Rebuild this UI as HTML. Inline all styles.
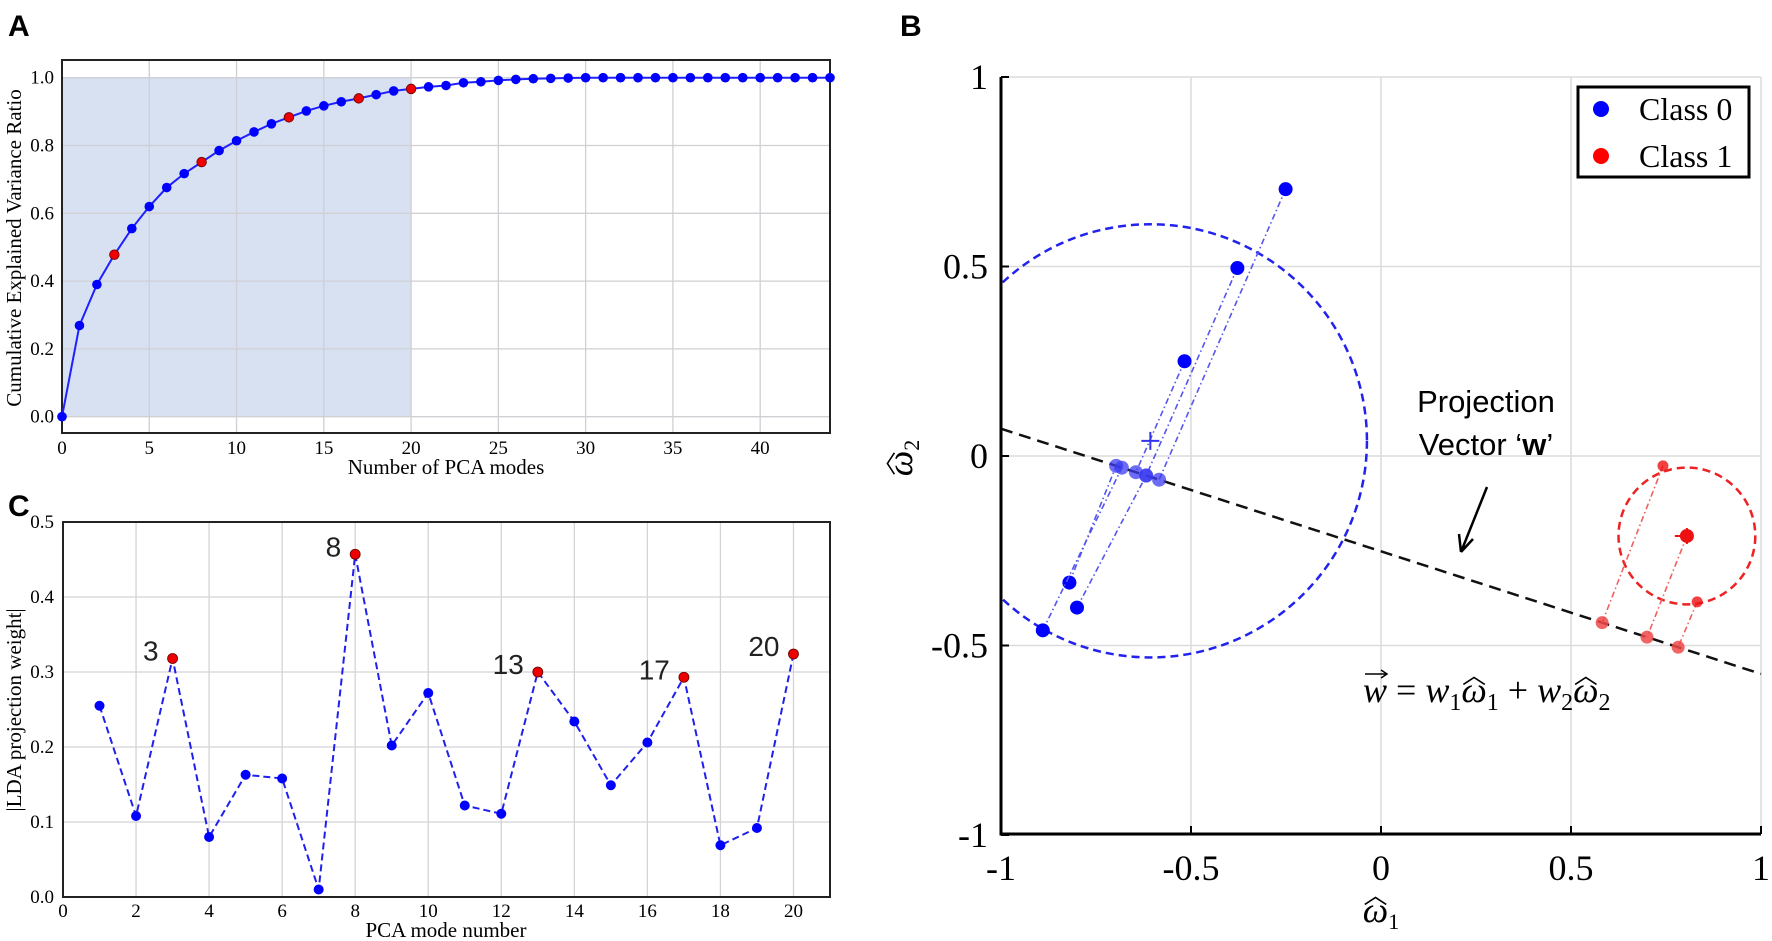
<!DOCTYPE html>
<html><head><meta charset="utf-8">
<style>
html,body{margin:0;padding:0;background:#fff;}
svg{display:block;}
.ser{font-family:"Liberation Serif",serif;}
.san{font-family:"Liberation Sans",sans-serif;}
</style></head>
<body>
<svg id="root" width="1772" height="941" viewBox="0 0 1772 941" xmlns="http://www.w3.org/2000/svg">
<text x="8" y="36" class="san" font-size="30" font-weight="bold">A</text>
<text x="8" y="516" class="san" font-size="30" font-weight="bold">C</text>
<text x="900" y="36" class="san" font-size="30" font-weight="bold">B</text>
<g id="gA"></g>
<g id="gC"></g>
<g id="gB"></g>
</svg>
<script>
// ---------- Panel A data ----------
const aModes = [0,1,2,3,4,5,6,7,8,9,10,11,12,13,14,15,16,17,18,19,20,21,22,23,24,25,26,27,28,29,30,31,32,33,34,35,36,37,38,39,40,41,42,43,44];
const aCumVar = [0,0.269,0.39,0.478,0.555,0.620,0.676,0.717,0.751,0.785,0.814,0.840,0.864,0.883,0.902,0.917,0.929,0.939,0.950,0.961,0.967,0.973,0.977,0.985,0.988,0.992,0.995,0.997,0.998,0.999,1,1,1,1,1,1,1,1,1,1,1,1,1,1,1];
const aHighlight = [3,8,13,17,20];
const aXTicks = [0,5,10,15,20,25,30,35,40];
const aYTicks = ["0.0","0.2","0.4","0.6","0.8","1.0"];
// ---------- Panel C data ----------
const cModes = [1,2,3,4,5,6,7,8,9,10,11,12,13,14,15,16,17,18,19,20];
const cWeights = [0.255,0.108,0.318,0.080,0.163,0.158,0.010,0.457,0.202,0.272,0.122,0.111,0.300,0.234,0.149,0.206,0.293,0.069,0.092,0.324];
const cHighlight = [3,8,13,17,20];
const cXTicks = [0,2,4,6,8,10,12,14,16,18,20];
const cYTicks = ["0.0","0.1","0.2","0.3","0.4","0.5"];
// ---------- Panel B data ----------
const b0X = [-0.251,-0.378,-0.517,-0.82,-0.80,-0.89];
const b0Y = [0.704,0.496,0.250,-0.334,-0.40,-0.46];
const b0ProjX = [-0.584,-0.618,-0.645,-0.697,-0.618,-0.682];
const b0Mean = [-0.607,0.040];
const b0Radius = 0.57;
const b1X = [0.742,0.832,0.805];
const b1Y = [-0.026,-0.385,-0.211];
const b1ProjX = [0.582,0.782,0.70];
const b1Radius = 0.18;
const wLine = [0.072,-0.575]; // y at x=-1 and x=1
const bTicks = [-1,-0.5,0,0.5,1];
const bTickLabels = ["-1","-0.5","0","0.5","1"];

const NS="http://www.w3.org/2000/svg";
function mk(parent,tag,attrs,txt){const e=document.createElementNS(NS,tag);for(const k in attrs)e.setAttribute(k,attrs[k]);if(txt!==undefined)e.textContent=txt;parent.appendChild(e);return e;}

// ===== Panel A =====
(function(){
 const g=document.getElementById('gA');
 const L=62,R=830,T=60,B=433;
 const sx=v=>L+(v-0)/44*(R-L);
 const sy=v=>416.7-v*339;
 let r=mk(g,'rect',{x:sx(0),y:sy(1),width:sx(20)-sx(0),height:sy(0)-sy(1),fill:'#d7e1f2'});
 
 
 aXTicks.forEach(t=>{const l=mk(g,'line',{x1:sx(t),x2:sx(t),y1:T,y2:B,stroke:'#cfcfd4','stroke-width':1.3});
  
  const tx=mk(g,'text',{x:sx(t),y:454,'text-anchor':'middle','font-size':19,class:'ser'},String(t));
  });
 aYTicks.forEach(t=>{const v=parseFloat(t);const l=mk(g,'line',{x1:L,x2:R,y1:sy(v),y2:sy(v),stroke:'#cfcfd4','stroke-width':1.3});
  
  const tx=mk(g,'text',{x:54,y:sy(v)+6,'text-anchor':'end','font-size':19,class:'ser'},t);
  });
 const fr=mk(g,'rect',{x:L,y:T,width:R-L,height:B-T,fill:'none',stroke:'#222','stroke-width':2});
 
 const pts=aModes.map((m,i)=>sx(m)+','+sy(aCumVar[i])).join(' ');
 const pl=mk(g,'polyline',{points:pts,fill:'none',stroke:'#2020ff','stroke-width':2});
 
 aModes.forEach((m,i)=>{const hi=aHighlight.includes(m);
  const c=mk(g,'circle',{cx:sx(m),cy:sy(aCumVar[i]),r:4.8,fill:hi?'#ee0000':'#0000ff',stroke:hi?'#600':'none','stroke-width':0.8});
  });
 const xt=mk(g,'text',{x:446,y:474,'text-anchor':'middle','font-size':21,class:'ser'},'Number of PCA modes');
 
 const yt=mk(g,'text',{x:0,y:0,'text-anchor':'middle','font-size':21,class:'ser',transform:'translate(21,248) rotate(-90)'},'Cumulative Explained Variance Ratio');
 
})();

// ===== Panel C =====
(function(){
 const g=document.getElementById('gC');
 const L=63,R=830,T=522,B=897;
 const sx=v=>L+v/21*(R-L);
 const sy=v=>B-v/0.5*(B-T);
 cXTicks.forEach(t=>{const l=mk(g,'line',{x1:sx(t),x2:sx(t),y1:T,y2:B,stroke:'#d4d4d8','stroke-width':1.3});
  
  const tx=mk(g,'text',{x:sx(t),y:917,'text-anchor':'middle','font-size':19,class:'ser'},String(t));
  });
 cYTicks.forEach(t=>{const v=parseFloat(t);const l=mk(g,'line',{x1:L,x2:R,y1:sy(v),y2:sy(v),stroke:'#d4d4d8','stroke-width':1.3});
  
  const tx=mk(g,'text',{x:54,y:sy(v)+6,'text-anchor':'end','font-size':19,class:'ser'},t);
  });
 const fr=mk(g,'rect',{x:L,y:T,width:R-L,height:B-T,fill:'none',stroke:'#222','stroke-width':2});
 
 const pts=cModes.map((m,i)=>sx(m)+','+sy(cWeights[i])).join(' ');
 const pl=mk(g,'polyline',{points:pts,fill:'none',stroke:'#2020ee','stroke-width':2,'stroke-dasharray':'7,4'});
 
 cModes.forEach((m,i)=>{const hi=cHighlight.includes(m);
  const c=mk(g,'circle',{cx:sx(m),cy:sy(cWeights[i]),r:5,fill:hi?'#ee0000':'#0000ff',stroke:hi?'#600':'none','stroke-width':0.8});
  
  if(hi){const lab=mk(g,'text',{x:sx(m)-14,y:sy(cWeights[i])+2,'text-anchor':'end','font-size':28,class:'san',fill:'#222'},String(m));
   }});
 const xt=mk(g,'text',{x:446,y:937,'text-anchor':'middle','font-size':21,class:'ser'},'PCA mode number');
 
 const yt=mk(g,'text',{x:0,y:0,'text-anchor':'middle','font-size':21,class:'ser',transform:'translate(21,710) rotate(-90)'},'|LDA projection weight|');
 
})();

// hat helper: draw a ^ over character index i of text element t
function hat(t,i,parent){
 const ext=t.getExtentOfChar(i);
 const cx=ext.x+ext.width/2, top=ext.y+ext.height*0.36;
 const w=ext.width*0.42;
 mk(parent,'path',{d:`M${cx-w},${top} L${cx},${top-7} L${cx+w},${top}`,fill:'none',stroke:'#000','stroke-width':1.6});
}

// ===== Panel B =====
(function(){
 const g=document.getElementById('gB');
 const L=1001,R=1761,T=77,B=834;
 const sx=v=>1381+v*380;
 const sy=v=>456-v*379;
 const defs=mk(g,'defs',{});
 const cp=mk(defs,'clipPath',{id:'bclip'});mk(cp,'rect',{x:L,y:T-5,width:R-L+5,height:B-T+5});
 bTicks.forEach((t,i)=>{
  const lx=mk(g,'line',{x1:sx(t),x2:sx(t),y1:T,y2:B,stroke:'#dcdcdc','stroke-width':1.5});
  
  const ly=mk(g,'line',{x1:L,x2:R,y1:sy(t),y2:sy(t),stroke:'#dcdcdc','stroke-width':1.5});
  
  const tx=mk(g,'text',{x:sx(t),y:880,'text-anchor':'middle','font-size':36,class:'ser'},bTickLabels[i]);
  
  const ty=mk(g,'text',{x:988,y:sy(t)+12,'text-anchor':'end','font-size':36,class:'ser'},bTickLabels[i]);
  
  mk(g,'line',{x1:L,x2:L+8,y1:sy(t),y2:sy(t),stroke:'#000','stroke-width':2});
  mk(g,'line',{x1:sx(t),x2:sx(t),y1:B,y2:B-8,stroke:'#000','stroke-width':2});
 });
 const cg=mk(g,'g',{'clip-path':'url(#bclip)'});
 const c0=mk(cg,'circle',{cx:sx(b0Mean[0]),cy:sy(b0Mean[1]),r:b0Radius*380,fill:'none',stroke:'#2222ee','stroke-width':2.5,'stroke-dasharray':'8,5'});
 
 const c1=mk(cg,'circle',{cx:sx(b1X[2]),cy:sy(b1Y[2]),r:b1Radius*380,fill:'none',stroke:'#ee2222','stroke-width':2.5,'stroke-dasharray':'8,5'});
 
 const wl=mk(cg,'line',{x1:sx(-1),y1:sy(wLine[0]),x2:sx(1),y2:sy(wLine[1]),stroke:'#111','stroke-width':2.5,'stroke-dasharray':'12,7'});
 
 const lineY=x=>wLine[0]+(x+1)/2*(wLine[1]-wLine[0]);
 b0X.forEach((x,i)=>{const px=b0ProjX[i];
  const l=mk(cg,'line',{x1:sx(x),y1:sy(b0Y[i]),x2:sx(px),y2:sy(lineY(px)),stroke:'#5555ee','stroke-width':1.6,'stroke-dasharray':'6,3,1.5,3'});
  
  const p=mk(cg,'circle',{cx:sx(px),cy:sy(lineY(px)),r:7,fill:'#3b3bf0','fill-opacity':0.75});
  
  const d=mk(cg,'circle',{cx:sx(x),cy:sy(b0Y[i]),r:7,fill:'#0000ff'});
  });
 b1X.forEach((x,i)=>{const px=b1ProjX[i];
  const l=mk(cg,'line',{x1:sx(x),y1:sy(b1Y[i]),x2:sx(px),y2:sy(lineY(px)),stroke:'#f06060','stroke-width':1.6,'stroke-dasharray':'6,3,1.5,3'});
  
  const p=mk(cg,'circle',{cx:sx(px),cy:sy(lineY(px)),r:6.5,fill:'#f04848','fill-opacity':0.85});
  
  const d=mk(cg,'circle',{cx:sx(x),cy:sy(b1Y[i]),r:i==2?7:5.5,fill:'#ee1111','fill-opacity':i==2?1:0.8});
  });
 const mx=sx(b0Mean[0]),my=sy(b0Mean[1]);
 const m0=mk(cg,'path',{d:`M${mx-9},${my}H${mx+9}M${mx},${my-9}V${my+9}`,stroke:'#3333ee','stroke-width':2});
 
 const rx=sx(b1X[2]),ry=sy(b1Y[2]);
 const m1=mk(cg,'path',{d:`M${rx-12},${ry}H${rx+4}M${rx},${ry-8}V${ry+8}`,stroke:'#ee1111','stroke-width':2});
 
 const ax=mk(g,'path',{d:`M${L},${T}V${B}H${R}`,fill:'none',stroke:'#000','stroke-width':3});
 
 const t1=mk(g,'text',{x:1486,y:412,'text-anchor':'middle','font-size':31,class:'san'},'Projection');
 
 const t2=mk(g,'text',{x:1486,y:455,'text-anchor':'middle','font-size':31,class:'san'});
 
 t2.innerHTML='Vector \u2018<tspan font-weight="bold">w</tspan>\u2019';
 const ar=mk(g,'path',{d:'M1487,487 L1461,552 M1461,552 L1459,534 M1461,552 L1473,539',fill:'none',stroke:'#000','stroke-width':2.5});
 
 // formula
 const f=mk(g,'text',{x:1363,y:702,'font-size':36,class:'ser','font-style':'italic'});
 
 f.innerHTML='w<tspan font-style="normal"> = </tspan>w<tspan font-size="24" dy="8" font-style="normal">1</tspan><tspan dy="-8">ω</tspan><tspan font-size="24" dy="8" font-style="normal">1</tspan><tspan dy="-8" font-style="normal"> + </tspan>w<tspan font-size="24" dy="8" font-style="normal">2</tspan><tspan dy="-8">ω</tspan><tspan font-size="24" dy="8" font-style="normal">2</tspan>';
 // char indices: w(0) ' '(1)'='(2)' '(3) w(4) 1(5) ω(6) 1(7) ' '(8)'+'(9)' '(10) w(11) 2(12) ω(13) 2(14)
 try{ hat(f,6,g); hat(f,13,g);
  const e=f.getExtentOfChar(0);
  mk(g,'path',{d:`M${e.x+2},${e.y+4} H${e.x+e.width-1} M${e.x+e.width-6},${e.y} L${e.x+e.width},${e.y+4} L${e.x+e.width-6},${e.y+8}`,fill:'none',stroke:'#000','stroke-width':1.5});
 }catch(err){}
 // axis titles
 const xt=mk(g,'text',{x:1381,y:922,'text-anchor':'middle','font-size':36,class:'ser','font-style':'italic'});
 
 xt.innerHTML='ω<tspan font-size="22" dy="7" font-style="normal">1</tspan>';
 try{hat(xt,0,g);}catch(err){}
 const ygr=mk(g,'g',{transform:'translate(912,458) rotate(-90)'});
 const yt=mk(ygr,'text',{x:0,y:0,'text-anchor':'middle','font-size':36,class:'ser','font-style':'italic'});
 
 yt.innerHTML='ω<tspan font-size="22" dy="7" font-style="normal">2</tspan>';
 try{hat(yt,0,ygr);}catch(err){}
 // legend
 const lg=mk(g,'g',{});
 
 mk(lg,'rect',{x:1578,y:87,width:171,height:90,fill:'#fff',stroke:'#000','stroke-width':3});
 const e0=mk(lg,'circle',{cx:1601,cy:109,r:8,fill:'#0000ff'});
 
 const l0=mk(lg,'text',{x:1639,y:120,'font-size':32,class:'ser'},'Class 0');
 
 const e1=mk(lg,'circle',{cx:1601,cy:156,r:8,fill:'#ff0000'});
 
 const l1=mk(lg,'text',{x:1639,y:167,'font-size':32,class:'ser'},'Class 1');
 
})();
</script>
</body></html>
